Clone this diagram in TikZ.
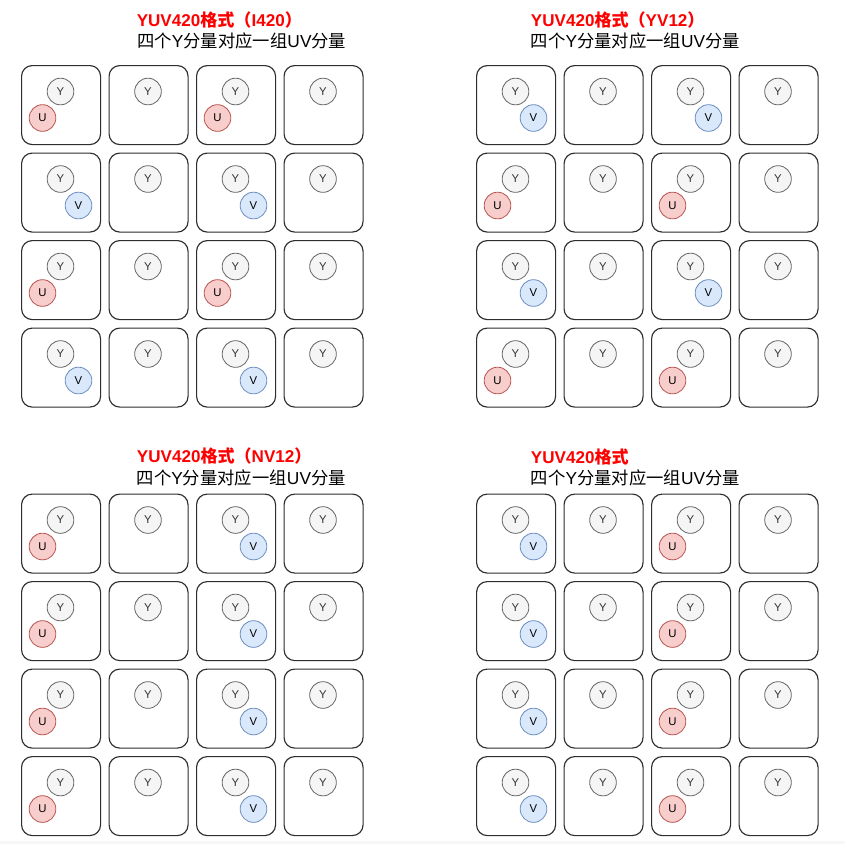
\documentclass[tikz,border=0pt]{standalone}
\usepackage{fontspec}
\setmainfont{Liberation Sans}
\newfontfamily\cjk{Noto Sans CJK SC}
\definecolor{ured}{HTML}{B85450}
\definecolor{ufill}{HTML}{F8CECC}
\definecolor{vblue}{HTML}{6C8EBF}
\definecolor{vfill}{HTML}{DAE8FC}
\definecolor{ygray}{HTML}{666666}
\definecolor{yfill}{HTML}{F5F5F5}
\tikzset{
  cellbox/.style={draw=black!82, line width=0.85pt, rounded corners=8pt,
    minimum width=59.25pt, minimum height=59.25pt, inner sep=0pt, anchor=north west},
  dotbase/.style={circle, minimum size=20pt, inner sep=0pt, line width=0.6pt,
    font=\fontsize{8.5}{9}\selectfont},
  ycirc/.style={dotbase, draw=ygray, fill=yfill, text=black!80},
  ucirc/.style={dotbase, draw=ured, fill=ufill, text=black},
  vcirc/.style={dotbase, draw=vblue, fill=vfill, text=black},
  titlered/.style={anchor=base west, inner sep=0pt, text=red,
    font=\bfseries\fontsize{12.8}{14}\selectfont},
  titlesub/.style={anchor=base west, inner sep=0pt, text=black,
    font=\fontsize{13}{15}\selectfont},
}
\newcommand\mygrid[4]{%
  \foreach \r in {0,1,2,3}{%
    \foreach \c in {0,1,2,3}{%
      \pgfmathsetmacro\xx{#2+\c*87.5}%
      \pgfmathsetmacro\yy{#3+\r*87.5}%
      \node[cellbox] (#1c\r\c) at (\xx,\yy) {};
      \node[ycirc] (#1y\r\c) at (\xx+39.5,\yy+26.5) {Y};
      \ifodd\c\relax\else
        \pgfmathtruncatemacro\isU{#4}%
        \ifnum\isU=1\relax
          \node[ucirc] (#1x\r\c) at (\xx+21.5,\yy+53) {U};
        \else
          \node[vcirc] (#1x\r\c) at (\xx+57.5,\yy+53) {V};
        \fi
      \fi
    }%
  }%
}
\begin{document}
\begin{tikzpicture}[x=0.75pt,y=-0.75pt]
\useasboundingbox (0,0) rectangle (845,844);
\fill[white] (0,0) rectangle (845,844);
\fill[black!3] (0,840.7) rectangle (845,844);

% top-left: I420
\node[titlered] (t1) at (136.5,26.5) {YUV420{\cjk 格式（}I420{\cjk ）}};
\node[titlesub] (s1) at (137,47.3) {{\cjk 四个}Y{\cjk 分量对应一组}UV{\cjk 分量}};
\mygrid{a}{21}{65}{1-mod(\r,2)}

% top-right: YV12
\node[titlered] (t2) at (530.7,26.5) {YUV420{\cjk 格式（}YV12{\cjk ）}};
\node[titlesub] (s2) at (530.7,47.3) {{\cjk 四个}Y{\cjk 分量对应一组}UV{\cjk 分量}};
\mygrid{b}{476}{65}{mod(\r,2)}

% bottom-left: NV12
\node[titlered] (t3) at (136.7,462.7) {YUV420{\cjk 格式（}NV12{\cjk ）}};
\node[titlesub] (s3) at (136.5,484) {{\cjk 四个}Y{\cjk 分量对应一组}UV{\cjk 分量}};
\mygrid{c}{21}{493.5}{\c==0}

% bottom-right
\node[titlered] (t4) at (530.7,463) {YUV420{\cjk 格式}};
\node[titlesub] (s4) at (530.7,484) {{\cjk 四个}Y{\cjk 分量对应一组}UV{\cjk 分量}};
\mygrid{d}{476}{493.5}{\c==2}
\end{tikzpicture}
\end{document}
